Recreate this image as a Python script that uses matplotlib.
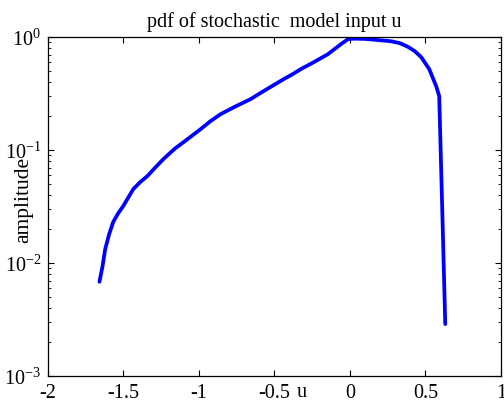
import matplotlib
matplotlib.use("Agg")
import matplotlib.pyplot as plt
import numpy as np

plt.rcParams['font.family'] = ['Liberation Serif', 'DejaVu Serif']
plt.rcParams['mathtext.fontset'] = 'custom'
plt.rcParams['mathtext.rm'] = 'Liberation Serif'

# values
u = [-1.659, -1.638, -1.621, -1.595, -1.568, -1.535, -1.502, -1.435, -1.390,
     -1.342, -1.290, -1.236, -1.160, -1.076, -0.990, -0.925, -0.857, -0.760,
     -0.658, -0.585, -0.439, -0.380, -0.326, -0.240, -0.146, -0.060, -0.013,
     0.027, 0.100, 0.159, 0.272, 0.330, 0.385, 0.430, 0.472, 0.525, 0.571,
     0.591, 0.611, 0.631]
pdf = [0.00683, 0.0095, 0.0133, 0.0180, 0.0231, 0.0276, 0.0319, 0.0452, 0.0520,
       0.0589, 0.0700, 0.0832, 0.103, 0.125, 0.153, 0.180, 0.208, 0.243,
       0.283, 0.325, 0.425, 0.470, 0.521, 0.600, 0.707, 0.867, 0.96,
       0.97, 0.965, 0.95, 0.92, 0.885, 0.82, 0.75, 0.665, 0.521, 0.368,
       0.30, 0.030, 0.00288]
xticks = [-2, -1.5, -1, -0.5, 0, 0.5, 1]
xticklabels = ['-2', '-1.5', '-1', '-0.5', '0', '0.5', '1']

fig = plt.figure(figsize=(5.04, 4.06), dpi=100)
ax = fig.add_axes([0.0952, 0.0714, 0.8988, 0.8346])
ax.semilogy(u, pdf, color='#0000ff', lw=2.7, solid_capstyle='round',
            solid_joinstyle='round')
ax.set_xlim(-2, 1)
ax.set_ylim(1e-3, 1)
ax.set_xticks(xticks)
ax.set_xticklabels(xticklabels)
ax.tick_params(which='both', direction='in', top=True, right=True,
               labelsize=14.5, pad=5)
ax.tick_params(which='major', length=4, width=0.8)
ax.tick_params(which='minor', length=2.5, width=0.6)
for s in ax.spines.values():
    s.set_linewidth(0.9)

ax.set_title('pdf of stochastic  model input u', fontsize=14.5, pad=8)
ax.set_xlabel('u', fontsize=14.5)
ax.xaxis.set_label_coords(0.561, -0.018)
ax.set_ylabel('amplitude', fontsize=15.5)
ax.yaxis.set_label_coords(-0.033, 0.522)

fig.savefig('out.png', dpi=100)
